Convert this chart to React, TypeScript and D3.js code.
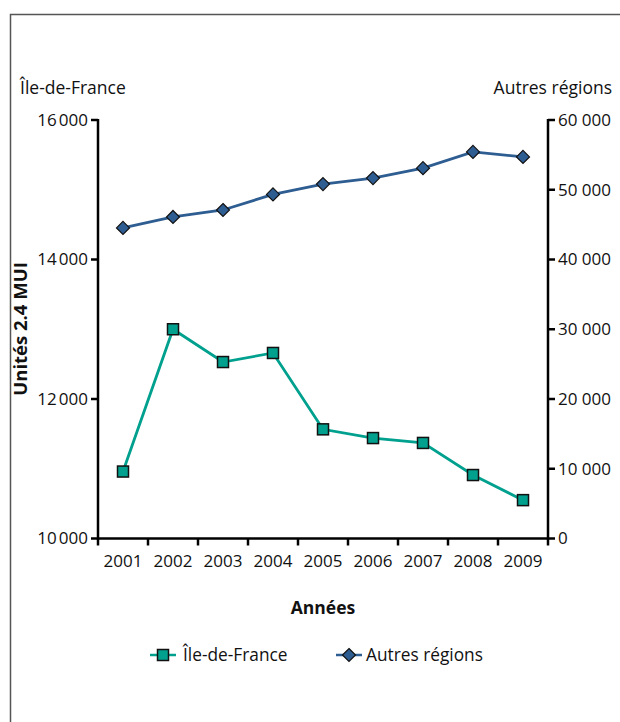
import React from "react";
import * as d3 from "d3";

const years = ["2001", "2002", "2003", "2004", "2005", "2006", "2007", "2008", "2009"];
const ileDeFrance = [10960, 13000, 12530, 12660, 11565, 11440, 11370, 10910, 10550];
const autresRegions = [44530, 46100, 47100, 49330, 50810, 51670, 53100, 55430, 54710];
const leftTicks = [10000, 12000, 14000, 16000];
const rightTicks = [0, 10000, 20000, 30000, 40000, 50000, 60000];

const W = 620;
const H = 722;
const FONT = "'Open Sans', 'Noto Sans', sans-serif";
const GREEN = "#00a08e";
const BLUE = "#2e5d92";

const fmt = (v: number) => {
  const s = String(v);
  if (v < 1000) return s;
  return s.slice(0, s.length - 3) + "\u202F" + s.slice(s.length - 3);
};
const fmtR = (v: number) => {
  const s = String(v);
  if (v < 1000) return s;
  return s.slice(0, s.length - 3) + " " + s.slice(s.length - 3);
};

export default function App() {
  const left = 98, right = 548, top = 120, bottom = 538.5;
  const x = d3.scaleBand<string>().domain(years).range([left, right]);
  const yL = d3.scaleLinear().domain([10000, 16000]).range([bottom, top]);
  const yR = d3.scaleLinear().domain([0, 60000]).range([bottom, top]);
  const cx = (y: string) => (x(y) as number) + x.bandwidth() / 2;

  const lineL = d3.line<number>().x((_, i) => cx(years[i])).y((d) => yL(d));
  const lineR = d3.line<number>().x((_, i) => cx(years[i])).y((d) => yR(d));

  const sq = 11;
  const dm = 6.5;
  const diamond = (px: number, py: number, r: number) =>
    `M${px},${py - r}L${px + r},${py}L${px},${py + r}L${px - r},${py}Z`;

  const tickX = [...years.map((y) => x(y) as number), right];

  return (
    <svg width={W} height={H} style={{ position: "absolute", left: 0, top: 0, background: "#fff" }} fontFamily={FONT}>
      <rect x={0} y={0} width={W} height={H} fill="#fff" />
      {/* frame */}
      <path d={`M10.5,${H + 5}V14.5H${W + 5}`} fill="none" stroke="#555" strokeWidth={1.5} />

      {/* top labels */}
      <text x={20} y={94} fontSize={17.5} fill="#111">Île-de-France</text>
      <text x={612} y={94} fontSize={17.5} fill="#111" textAnchor="end">Autres régions</text>

      {/* left axis */}
      <line x1={left} x2={left} y1={top - 1} y2={bottom + 1} stroke="#000" strokeWidth={2.5} />
      {leftTicks.map((t) => (
        <g key={t}>
          <line x1={left - 7} x2={left} y1={yL(t)} y2={yL(t)} stroke="#000" strokeWidth={2.5} />
          <text x={left - 10} y={yL(t)} dy="0.35em" fontSize={17} textAnchor="end" fill="#111" letterSpacing={-0.5}>
            {fmt(t)}
          </text>
        </g>
      ))}

      {/* right axis */}
      <line x1={right} x2={right} y1={top - 1} y2={bottom + 1} stroke="#000" strokeWidth={2.5} />
      {rightTicks.map((t) => (
        <g key={t}>
          <line x1={right} x2={right + 7} y1={yR(t)} y2={yR(t)} stroke="#000" strokeWidth={2.5} />
          <text x={right + 10} y={yR(t)} dy="0.35em" fontSize={17} fill="#111">
            {fmtR(t)}
          </text>
        </g>
      ))}

      {/* x axis */}
      <line x1={left - 1} x2={right + 1} y1={bottom} y2={bottom} stroke="#000" strokeWidth={2.5} />
      {tickX.map((t, i) => (
        <line key={i} x1={t} x2={t} y1={bottom} y2={bottom + 7} stroke="#000" strokeWidth={2.5} />
      ))}
      {years.map((y) => (
        <text key={y} x={cx(y)} y={561} dy="0.35em" fontSize={17} textAnchor="middle" fill="#111">
          {y}
        </text>
      ))}

      {/* axis titles */}
      <text x={323} y={608} dy="0.35em" fontSize={17.5} fontWeight="bold" textAnchor="middle" fill="#111">
        Années
      </text>
      <text
        transform={`translate(27,329) rotate(-90)`}
        fontSize={18.5}
        fontWeight="bold"
        textAnchor="middle"
        fill="#111"
      >
        Unités 2.4 MUI
      </text>

      {/* series lines */}
      <path d={lineR(autresRegions) as string} fill="none" stroke={BLUE} strokeWidth={2.8} />
      <path d={lineL(ileDeFrance) as string} fill="none" stroke={GREEN} strokeWidth={2.8} />

      {autresRegions.map((v, i) => (
        <path key={i} d={diamond(cx(years[i]), yR(v), dm)} fill={BLUE} stroke="#111" strokeWidth={1.2} />
      ))}
      {ileDeFrance.map((v, i) => (
        <rect
          key={i}
          x={cx(years[i]) - sq / 2}
          y={yL(v) - sq / 2}
          width={sq}
          height={sq}
          fill={GREEN}
          stroke="#111"
          strokeWidth={1.5}
        />
      ))}

      {/* legend */}
      <line x1={150} x2={176} y1={655} y2={655} stroke={GREEN} strokeWidth={2.5} />
      <rect x={163 - sq / 2} y={655 - sq / 2} width={sq} height={sq} fill={GREEN} stroke="#111" strokeWidth={1.5} />
      <text x={183} y={655} dy="0.35em" fontSize={17.3} fill="#111">Île-de-France</text>

      <line x1={336} x2={362} y1={655} y2={655} stroke={BLUE} strokeWidth={2.5} />
      <path d={diamond(349, 655, dm)} fill={BLUE} stroke="#111" strokeWidth={1.2} />
      <text x={366} y={655} dy="0.35em" fontSize={17.3} fill="#111">Autres régions</text>
    </svg>
  );
}
